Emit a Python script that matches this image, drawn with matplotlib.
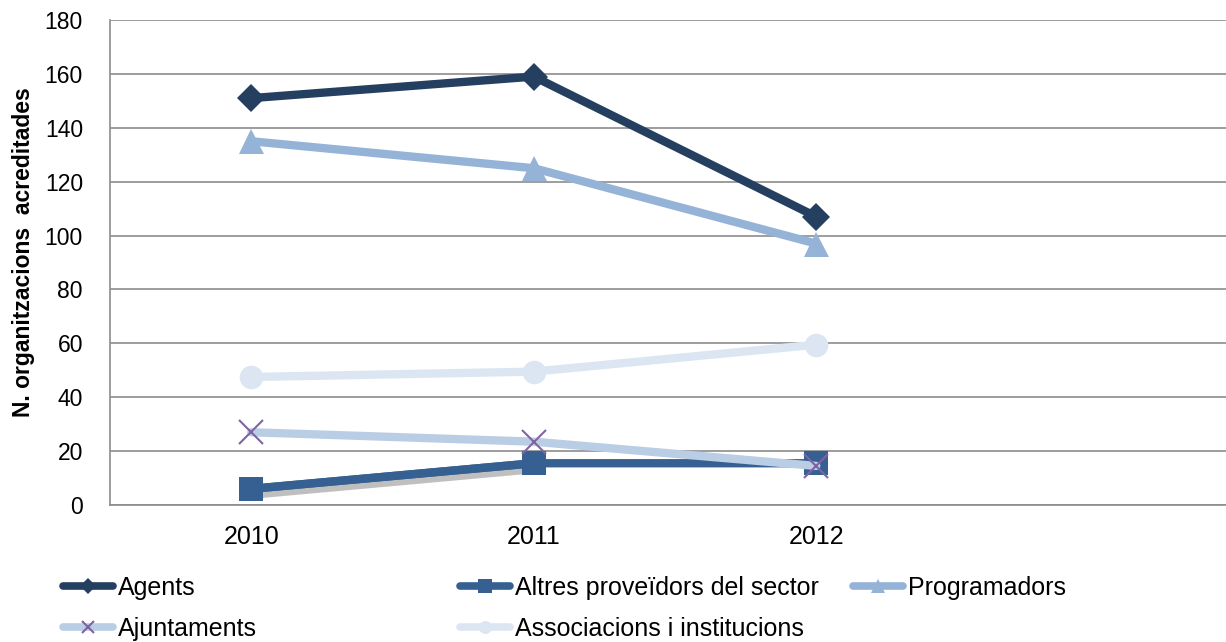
import matplotlib.pyplot as plt
import matplotlib.patheffects as pe

# Dades
anys = ['2010', '2011', '2012']
agents = [151, 159, 107]
altres = [6, 15.5, 15.5]
programadors = [135, 125, 97]
ajuntaments = [27, 23.5, 14.5]
associacions = [47.5, 49.5, 59.5]

plt.rcParams['font.family'] = ['Liberation Sans', 'DejaVu Sans']

fig = plt.figure(figsize=(12.26, 6.42), dpi=100)
W, H = 1226, 642
ax = fig.add_axes([110 / W, 1 - 505 / H, 1130 / W, 485 / H])

x = list(range(len(anys)))
lw = 6

# ombra de la serie "Altres" (primer tram)
ax.plot(x[:2], altres[:2], color='#366092', lw=lw, solid_capstyle='butt', zorder=2,
        path_effects=[pe.SimpleLineShadow(offset=(3, -4), shadow_color='#808080', alpha=0.5),
                      pe.Normal()])

l1, = ax.plot(x, agents, color='#243F60', lw=lw, marker='D', ms=14, mew=0, label='Agents', zorder=3)
l2, = ax.plot(x, altres, color='#366092', lw=lw, marker='s', ms=17.5, mew=0,
              label='Altres proveïdors del sector', zorder=4)
l3, = ax.plot(x, programadors, color='#95B3D7', lw=lw, marker='^', ms=18, mew=0,
              label='Programadors', zorder=5)
l4, = ax.plot(x, ajuntaments, color='#B9CDE5', lw=lw, marker='x', ms=17, mew=1.5,
              mec='#8064A2', label='Ajuntaments', zorder=6)
l5, = ax.plot(x, associacions, color='#DCE6F2', lw=lw, marker='o', ms=17, mew=0,
              label='Associacions i institucions', zorder=7)
for l in (l1, l2, l3, l4, l5):
    l.set_solid_capstyle('round')

ax.set_xlim(-0.5, 3.5)
ax.set_ylim(0, 180)
ax.set_yticks(range(0, 181, 20))
ax.set_xticks(x)
ax.set_xticklabels(anys)
ax.tick_params(axis='both', length=0)
ax.tick_params(axis='y', pad=19.5, labelsize=16.5)
ax.tick_params(axis='x', pad=14.5, labelsize=18)
ax.grid(axis='y', color='#8c8c8c', lw=1.2)
ax.set_axisbelow(True)
for s in ['top', 'right']:
    ax.spines[s].set_visible(False)
for s in ['left', 'bottom']:
    ax.spines[s].set_color('#8c8c8c')
    ax.spines[s].set_linewidth(1.2)
ax.set_ylabel('N. organitzacions  acreditades', fontsize=16.5, fontweight='bold')
ax.yaxis.set_label_coords(24 / W, 1 - 252 / H, transform=fig.transFigure)
ax.yaxis.label.set_verticalalignment('center')

# llegenda en tres columnes
kw = dict(loc='upper left', frameon=False, fontsize=18, handlelength=2.0,
          handletextpad=0.2, labelspacing=0.68, borderpad=0, borderaxespad=0)
cols = [([l1, l4], 63), ([l2, l5], 460), ([l3], 853)]
for handles, px in cols:
    leg = fig.legend(handles=handles, labels=[h.get_label() for h in handles],
                     bbox_to_anchor=(px / W, 1 - 576 / H), markerscale=0.55, **kw)
    for lh in leg.legend_handles:
        lh.set_linewidth(5.5)
        lh.set_solid_capstyle('round')

fig.savefig('out.png', dpi=100)
